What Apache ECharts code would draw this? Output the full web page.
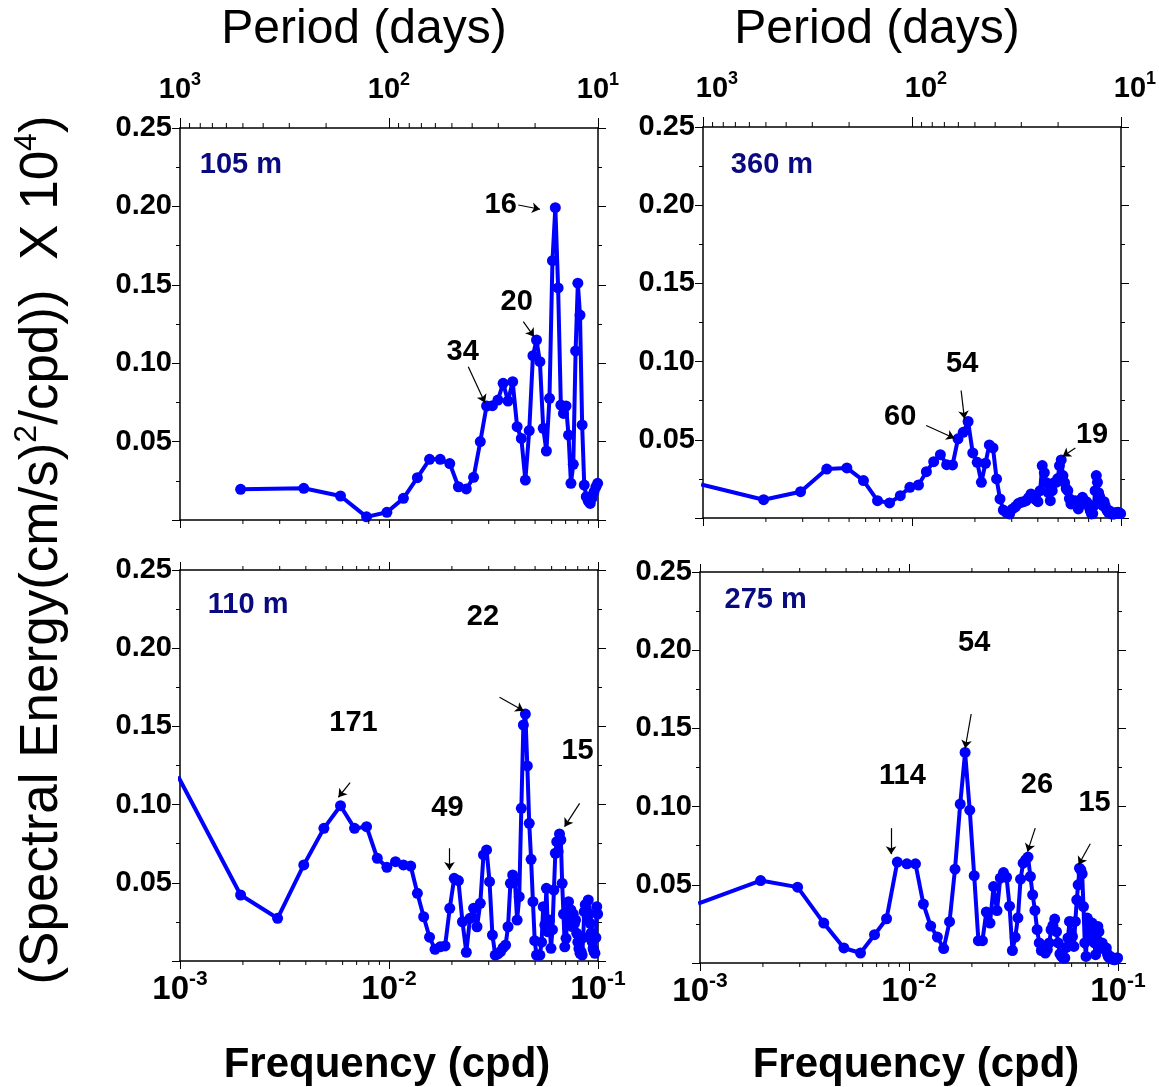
<!DOCTYPE html>
<html><head><meta charset="utf-8">
<script src="https://cdn.jsdelivr.net/npm/echarts@6/dist/echarts.min.js"></script>
<style>html,body{margin:0;padding:0;background:#fff}#chart{width:1159px;height:1087px}</style>
</head><body><div id="chart"></div>
<script>
// ---------------- DATA ----------------
// frequency grid (cpd) of the 360 m, 110 m and 275 m spectra
const freqFine = [0.00098,0.00195,0.00293,0.00391,0.00488,0.00586,0.00684,0.00781,0.00879,0.00977,
0.01074,0.01172,0.0127,0.01367,0.01465,0.01563,0.0166,0.01758,0.01855,0.01953,
0.02051,0.02148,0.02246,0.02344,0.02441,0.02539,0.02637,0.02734,0.02832,0.0293,
0.03027,0.03125,0.03223,0.0332,0.03418,0.03516,0.03613,0.03711,0.03809,0.03906,
0.04004,0.04102,0.04199,0.04297,0.04395,0.04492,0.0459,0.04688,0.04785,0.04883,
0.0498,0.05078,0.05176,0.05273,0.05371,0.05469,0.05566,0.05664,0.05762,0.05859,
0.05957,0.06055,0.06152,0.0625,0.06348,0.06445,0.06543,0.06641,0.06738,0.06836,
0.06934,0.07031,0.07129,0.07227,0.07324,0.07422,0.0752,0.07617,0.07715,0.07813,
0.0791,0.08008,0.08105,0.08203,0.08301,0.08398,0.08496,0.08594,0.08691,0.08789,
0.08887,0.08984,0.09082,0.0918,0.09277,0.09375,0.09473,0.0957,0.09668,0.09766,
0.09863,0.09961];
// frequency grid (cpd) of the 105 m spectrum
const freqCoarse = [0.00195,0.00391,0.00586,0.00781,0.00977,0.01172,0.01367,0.01563,0.01758,0.01953,
0.02148,0.02344,0.02539,0.02734,0.0293,0.03125,0.0332,0.03516,0.03711,0.03906,
0.04102,0.04297,0.04492,0.04688,0.04883,0.05078,0.05273,0.05469,0.05664,0.05859,
0.06055,0.0625,0.06445,0.06641,0.06836,0.07031,0.07227,0.07422,0.07617,0.07813,
0.08008,0.08203,0.08398,0.08594,0.08789,0.08984,0.0918,0.09375,0.0957,0.09766,
0.09961];

const energy105m = [0.0196,0.0202,0.0153,0.002,0.0049,0.0138,0.027,0.0387,0.0387,0.036,
0.0212,0.0198,0.0272,0.050,0.0727,0.0729,0.0765,0.0872,0.0759,0.0882,
0.0595,0.052,0.0255,0.057,0.1048,0.1148,0.101,0.0585,0.044,0.0776,
0.1654,0.1992,0.148,0.0733,0.068,0.0727,0.0542,0.0234,0.0355,0.1078,
0.151,0.1307,0.0606,0.0223,0.0149,0.012,0.0106,0.014,0.018,0.021,
0.0234];

const energy360m = [0.0215,0.0117,0.0168,0.0313,0.032,0.0239,0.0111,0.0096,0.0143,0.0196,
0.0211,0.0296,0.036,0.0405,0.0341,0.0339,0.0506,0.0548,0.0617,0.0416,
0.0356,0.0228,0.035,0.0467,0.0448,0.025,0.0122,0.0051,0.0034,0.0026,
0.0058,0.0072,0.0092,0.01,0.0104,0.0111,0.013,0.0154,0.013,0.0117,
0.0104,0.0175,0.0335,0.029,0.0226,0.0162,0.0111,0.0175,0.0226,0.0228,
0.0252,0.0335,0.0371,0.0271,0.0226,0.0188,0.0175,0.0124,0.009,0.0111,
0.0092,0.0111,0.0079,0.0058,0.0092,0.0117,0.0132,0.0111,0.0092,0.0104,
0.009,0.0072,0.0047,0.0026,0.0028,0.0079,0.0175,0.0271,0.0228,0.0162,
0.0136,0.0111,0.0092,0.0079,0.0104,0.0079,0.006,0.0047,0.0036,0.0047,
0.0034,0.0026,0.0034,0.0026,0.0026,0.0034,0.0028,0.0034,0.0036,0.0034,
0.0028,0.0028];

const energy110m = [0.118,0.0422,0.0273,0.0614,0.0848,0.0993,0.0848,0.0859,0.0657,0.0599,
0.0635,0.0614,0.0607,0.0433,0.0283,0.0152,0.0075,0.0091,0.0096,0.0337,
0.0529,0.0514,0.0251,0.0056,0.0273,0.0337,0.0219,0.0369,0.0678,0.071,
0.0507,0.0166,0.0038,0.0045,0.006,0.0085,0.0102,0.0219,0.0497,0.055,
0.0507,0.0262,0.0411,0.0976,0.1509,0.1579,0.1247,0.088,0.065,0.0379,
0.013,0.0038,0.0038,0.0038,0.012,0.0347,0.023,0.0465,0.0187,0.0262,
0.0081,0.02,0.0454,0.0689,0.0763,0.07,0.0812,0.0774,0.0497,0.03,
0.0091,0.0145,0.028,0.0379,0.033,0.0326,0.022,0.03,0.024,0.0262,
0.0177,0.012,0.008,0.0049,0.006,0.0038,0.015,0.0315,0.036,0.033,
0.028,0.039,0.03,0.0241,0.018,0.0123,0.008,0.006,0.0049,0.015,
0.0347,0.03];

const energy275m = [0.038,0.0527,0.0485,0.0255,0.0096,0.0064,0.0181,0.0283,0.0645,0.0634,
0.0634,0.0377,0.0236,0.0166,0.0092,0.0264,0.06,0.1016,0.1346,0.0977,
0.0558,0.0143,0.0143,0.0326,0.0255,0.0489,0.0335,0.0543,0.0578,0.0548,
0.0363,0.008,0.0165,0.0289,0.0536,0.0638,0.066,0.0677,0.0553,0.0436,
0.0336,0.0213,0.0128,0.008,0.0085,0.0064,0.0085,0.0128,0.0213,0.024,
0.0281,0.02,0.0128,0.0059,0.0042,0.0032,0.0032,0.01,0.016,0.0266,
0.0262,0.017,0.0106,0.0266,0.0404,0.05,0.0606,0.0595,0.057,0.0361,
0.0128,0.0042,0.0287,0.0266,0.0213,0.015,0.0255,0.0213,0.0128,0.0053,
0.015,0.0234,0.02,0.0128,0.0096,0.0128,0.011,0.0096,0.0085,0.0096,
0.006,0.0042,0.0035,0.0042,0.003,0.0025,0.0032,0.0021,0.0021,0.0025,
0.0032,0.0032];

// peak labels (period in days) and panel depth labels
const depthLabels = ['105 m', '360 m', '110 m', '275 m'];
const peakLabels105m = ['16', '20', '34'];
const peakLabels360m = ['54', '60', '19'];
const peakLabels110m = ['22', '171', '49', '15'];
const peakLabels275m = ['54', '114', '26', '15'];

// axis tick positions
const minorFreqTicks = [0.002,0.003,0.004,0.005,0.006,0.007,0.008,0.009,0.02,0.03,0.04,0.05,0.06,0.07,0.08,0.09];
const minorPeriodTicks = [900,800,700,600,500,400,300,200,90,80,70,60,50,40,30,20];

// ---------------- LAYOUT / STYLE ----------------
const F = 'Arial, "Liberation Sans", Helvetica, sans-serif';
const BLUE = '#0000ff';
const NAVY = '#0a0a80';

const layout = [
  {grid: {left: 180, top: 128, width: 418, height: 392}, period: true, bottomLabels: false,
   depthAt: [0.001237, 0.2264],
   labelAt: [[0.03423, 0.2009], [0.04083, 0.1392], [0.02253, 0.1073]],
   arrows: [[[0.04157, 0.2009], [0.05279, 0.1982]], [[0.04391, 0.1265], [0.04941, 0.1169]], [[0.02395, 0.0978], [0.02878, 0.0748]]],
   topLabelPad: 0},
  {grid: {left: 703, top: 127, width: 418, height: 391}, period: true, bottomLabels: false,
   depthAt: [0.001352, 0.2255],
   labelAt: [[0.01738, 0.0986], [0.00878, 0.0644], [0.07267, 0.0531]],
   arrows: [[[0.01718, 0.0815], [0.01782, 0.0634]], [[0.01169, 0.0591], [0.01596, 0.051]], [[0.06046, 0.0448], [0.05258, 0.0394]]],
   topLabelPad: 28},
  {grid: {left: 180, top: 570, width: 418, height: 391}, period: false, bottomLabels: true,
   depthAt: [0.001351, 0.2276],
   labelAt: [[0.02814, 0.2201], [0.006759, 0.152], [0.01905, 0.0976], [0.07985, 0.1345]],
   arrows: [[[0.0338, 0.1686], [0.04403, 0.16]], [[0.006516, 0.114], [0.005728, 0.1047]], [[0.01947, 0.0721], [0.01947, 0.0582]], [[0.08165, 0.1008], [0.06921, 0.0859]]]},
  {grid: {left: 700, top: 572, width: 418, height: 391}, period: false, bottomLabels: true,
   depthAt: [0.001303, 0.2319],
   labelAt: [[0.0205, 0.2043], [0.0093, 0.1196], [0.04094, 0.1138], [0.07727, 0.1025]],
   arrows: [[[0.01984, 0.1592], [0.01857, 0.1373]], [[0.00821, 0.0862], [0.00821, 0.0696]], [[0.04018, 0.0862], [0.03691, 0.0712]], [[0.07369, 0.0762], [0.06477, 0.0628]]]}
];

const panels = [
  {freq: freqCoarse, values: energy105m, peaks: peakLabels105m},
  {freq: freqFine, values: energy360m, peaks: peakLabels360m},
  {freq: freqFine, values: energy110m, peaks: peakLabels110m},
  {freq: freqFine, values: energy275m, peaks: peakLabels275m}
];

function makeRich(base, sup, lh) {
  return {
    b: {fontSize: base, fontWeight: 'bold', fontFamily: F, color: '#000', lineHeight: lh, verticalAlign: 'bottom'},
    s: {fontSize: sup, fontWeight: 'bold', fontFamily: F, color: '#000', lineHeight: sup, verticalAlign: 'top'}
  };
}
const topRich = makeRich(29, 18, 33);
const bottomRich = makeRich(33, 21, 37);
function expLabel(v) { return '{b|10}{s|' + Math.round(Math.log10(v)) + '}'; }

function tickSeries(xIdx, yIdx, values, edge, len) {
  return {
    type: 'custom', xAxisIndex: xIdx, yAxisIndex: yIdx, silent: true, clip: false, z: 5,
    data: values.map(v => [v, 0]),
    renderItem: function (params, api) {
      const cs = params.coordSys;
      const x = api.coord([api.value(0), 0])[0];
      const y0 = edge === 'bottom' ? cs.y + cs.height : cs.y;
      const y1 = edge === 'bottom' ? y0 + len : y0 - len;
      return {type: 'line', shape: {x1: x, y1: y0, x2: x, y2: y1}, style: {stroke: '#000', lineWidth: 1}};
    }
  };
}

const option = {animation: false, backgroundColor: '#fff', grid: [], xAxis: [], yAxis: [], series: [], graphic: []};
const axisLine = {onZero: false, lineStyle: {color: '#000', width: 1.5}};

panels.forEach(function (p, i) {
  const L = layout[i];
  option.grid.push(Object.assign({containLabel: false, outerBoundsMode: 'none'}, L.grid));
  const xb = option.xAxis.length;
  option.xAxis.push({
    type: 'log', logBase: 10, gridIndex: i, position: 'bottom', min: 0.001, max: 0.1,
    axisLine: axisLine, axisTick: {length: 8, lineStyle: {color: '#000', width: 1}},
    axisLabel: {show: L.bottomLabels, margin: 8, formatter: expLabel, rich: bottomRich},
    splitLine: {show: false}
  });
  const xt = option.xAxis.length;
  if (L.period) {
    option.xAxis.push({
      type: 'log', logBase: 10, gridIndex: i, position: 'top', min: 10, max: 1000, inverse: true,
      axisLine: axisLine, axisTick: {length: 10, lineStyle: {color: '#000', width: 1}},
      axisLabel: {show: true, margin: 24, formatter: expLabel, rich: topRich, padding: [0, 0, 0, L.topLabelPad]},
      splitLine: {show: false}
    });
  } else {
    option.xAxis.push({
      type: 'log', logBase: 10, gridIndex: i, position: 'top', min: 0.001, max: 0.1,
      axisLine: axisLine, axisTick: {length: 8, lineStyle: {color: '#000', width: 1}},
      axisLabel: {show: false}, splitLine: {show: false}
    });
  }
  const yl = option.yAxis.length;
  const yCommon = {type: 'value', gridIndex: i, min: 0, max: 0.25, interval: 0.05,
    axisLine: {show: true, onZero: false, lineStyle: {color: '#000', width: 1.5}},
    axisTick: {show: true, length: 8, lineStyle: {color: '#000', width: 1}},
    minorTick: {show: true, splitNumber: 2, length: 4, lineStyle: {color: '#000', width: 1}},
    splitLine: {show: false}};
  option.yAxis.push(Object.assign({}, yCommon, {position: 'left',
    axisLabel: {show: true, margin: 8, fontSize: 29, fontWeight: 'bold', fontFamily: F, color: '#000',
      formatter: v => v === 0 ? '' : v.toFixed(2)}}));
  option.yAxis.push(Object.assign({}, yCommon, {position: 'right', axisLabel: {show: false}}));

  option.series.push(tickSeries(xb, yl, minorFreqTicks, 'bottom', 4));
  if (L.period) option.series.push(tickSeries(xt, yl, minorPeriodTicks, 'top', 5));
  else option.series.push(tickSeries(xt, yl, minorFreqTicks, 'top', 4));

  const marks = p.peaks.map((t, j) => ({name: t, coord: L.labelAt[j]}));
  marks.push({name: depthLabels[i], coord: L.depthAt,
    label: {position: 'right', distance: 0, color: NAVY, fontSize: 29}});

  option.series.push({
    type: 'line', xAxisIndex: xb, yAxisIndex: yl, z: 3,
    data: p.freq.map((f, j) => [f, p.values[j]]),
    symbol: 'circle', symbolSize: 11, showSymbol: true,
    lineStyle: {color: BLUE, width: 4}, itemStyle: {color: BLUE},
    emphasis: {disabled: true},
    markPoint: {
      symbol: 'circle', symbolSize: 1, silent: true, itemStyle: {color: 'rgba(0,0,0,0)'},
      label: {show: true, position: 'inside', formatter: '{b}', color: '#000', fontSize: 29, fontWeight: 'bold', fontFamily: F},
      data: marks
    },
    markLine: {
      silent: true, symbol: ['none', 'arrow'], symbolSize: 8,
      label: {show: false}, lineStyle: {color: '#000', width: 1.2, type: 'solid'},
      emphasis: {disabled: true},
      data: L.arrows.map(a => [{coord: a[0]}, {coord: a[1]}])
    }
  });
});

option.graphic = [
  {type: 'text', x: 364, y: 30, style: {text: 'Period (days)', font: '48px ' + F, fill: '#000', align: 'center', verticalAlign: 'middle'}},
  {type: 'text', x: 877, y: 30, style: {text: 'Period (days)', font: '48px ' + F, fill: '#000', align: 'center', verticalAlign: 'middle'}},
  {type: 'text', x: 387, y: 1065, style: {text: 'Frequency (cpd)', font: 'bold 42px ' + F, fill: '#000', align: 'center', verticalAlign: 'middle'}},
  {type: 'text', x: 916, y: 1065, style: {text: 'Frequency (cpd)', font: 'bold 42px ' + F, fill: '#000', align: 'center', verticalAlign: 'middle'}},
  {type: 'text', x: 40, y: 550, rotation: Math.PI / 2,
   style: {text: '{a|(Spectral Energy(cm/s)}{s|2}{a|/cpd))  X 10}{s|4}{a|)}',
     align: 'center', verticalAlign: 'middle',
     rich: {a: {fontSize: 53, fontFamily: F, fill: '#000', lineHeight: 58, verticalAlign: 'bottom'},
            s: {fontSize: 32, fontFamily: F, fill: '#000', lineHeight: 32, verticalAlign: 'top'}}}}
];

const chart = echarts.init(document.getElementById('chart'), null, {renderer: 'canvas'});
chart.setOption(option);
</script>
</body></html>
